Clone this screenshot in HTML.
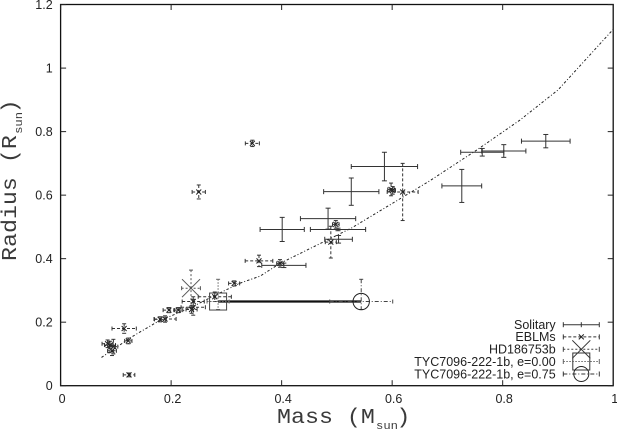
<!DOCTYPE html>
<html>
<head>
<meta charset="utf-8">
<style>
html,body{margin:0;padding:0;background:#fff;}
svg{display:block;}
text{font-family:"Liberation Sans",sans-serif;fill:#222;}
.mono{font-family:"Liberation Mono",monospace;fill:#3a3a3a;}
</style>
</head>
<body>
<svg id="chart" width="617" height="430" viewBox="0 0 617 430" xmlns="http://www.w3.org/2000/svg"></svg>
<script>
const xTicks = [0, 0.2, 0.4, 0.6, 0.8, 1];
const yTicks = [0, 0.2, 0.4, 0.6, 0.8, 1, 1.2];
const xTickLabels = ['0', '0.2', '0.4', '0.6', '0.8', '1'];
const yTickLabels = ['0', '0.2', '0.4', '0.6', '0.8', '1', '1.2'];

const modelMass = [0.074, 0.129, 0.174, 0.24, 0.288, 0.325, 0.361, 0.397, 0.527, 0.668, 0.753, 0.831, 0.9, 1.0];
const modelRadius = [0.089, 0.154, 0.2, 0.25, 0.292, 0.323, 0.345, 0.385, 0.497, 0.645, 0.742, 0.836, 0.931, 1.122];

const solitaryMass = [0.586, 0.526, 0.484, 0.401, 0.502, 0.503, 0.404, 0.726, 0.763, 0.802, 0.878];
const solitaryRadius = [0.69, 0.611, 0.526, 0.492, 0.492, 0.461, 0.379, 0.629, 0.735, 0.739, 0.77];
const solitaryMassErr = [0.06, 0.05, 0.05, 0.04, 0.05, 0.025, 0.04, 0.036, 0.039, 0.04, 0.044];
const solitaryRadiusErr = [0.045, 0.043, 0.033, 0.038, 0.004, 0.012, 0.007, 0.052, 0.012, 0.02, 0.021];

const eblmMass = [0.347, 0.25, 0.619, 0.598, 0.601, 0.489, 0.498, 0.359, 0.397, 0.314, 0.279, 0.24, 0.24, 0.237, 0.213, 0.196, 0.189, 0.18, 0.115, 0.1225, 0.0894, 0.0955, 0.085, 0.093, 0.1238];
const eblmRadius = [0.763, 0.61, 0.61, 0.618, 0.615, 0.452, 0.508, 0.393, 0.385, 0.322, 0.28, 0.247, 0.265, 0.24, 0.238, 0.238, 0.21, 0.209, 0.18, 0.141, 0.128, 0.123, 0.132, 0.11, 0.034];
const eblmMassErr = [0.0127, 0.012, 0.028, 0.006, 0.005, 0.01, 0.006, 0.025, 0.006, 0.01, 0.03, 0.022, 0.02, 0.01, 0.008, 0.0105, 0.02, 0.01, 0.022, 0.0066, 0.01, 0.008, 0.01, 0.008, 0.0105];
const eblmRadiusErr = [0.01, 0.022, 0.09, 0.02, 0.012, 0.05, 0.012, 0.018, 0.012, 0.008, 0.015, 0.025, 0.015, 0.012, 0.008, 0.008, 0.01, 0.008, 0.015, 0.009, 0.012, 0.023, 0.012, 0.015, 0.006];

const hdMass = [0.236];
const hdRadius = [0.307];
const hdMassErr = [0.017];
const hdRadiusErr = [0.057];

const tycMass = [0.285, 0.544];
const tycRadius = [0.265, 0.265];
const tycMassErr = [0.02, 0.057];
const tycRadiusLow = [0.025, 0.025];
const tycRadiusHigh = [0.07, 0.07];

const legendLabels = ['Solitary', 'EBLMs', 'HD186753b', 'TYC7096-222-1b, e=0.00', 'TYC7096-222-1b, e=0.75'];

const SVGNS = 'http://www.w3.org/2000/svg';
const svg = document.getElementById('chart');
const xScale = m => 60.6 + 552.6 * m;
const yScale = r => 385.7 - 317.6 * r;

function make(tag, attrs, parent) {
  const el = document.createElementNS(SVGNS, tag);
  for (const k in attrs) el.setAttribute(k, attrs[k]);
  (parent || svg).appendChild(el);
  return el;
}
function line(parent, x1, y1, x2, y2, stroke, width, dash) {
  const a = { x1: x1, y1: y1, x2: x2, y2: y2, stroke: stroke, 'stroke-width': width };
  if (dash) a['stroke-dasharray'] = dash;
  return make('line', a, parent);
}
function errorBars(parent, cx, cy, left, right, top, bottom, cap, stroke, dash, width) {
  line(parent, left, cy, right, cy, stroke, width, dash);
  line(parent, cx, top, cx, bottom, stroke, width, dash);
  line(parent, left, cy - cap, left, cy + cap, stroke, width);
  line(parent, right, cy - cap, right, cy + cap, stroke, width);
  line(parent, cx - cap, top, cx + cap, top, stroke, width);
  line(parent, cx - cap, bottom, cx + cap, bottom, stroke, width);
}
function crossMark(parent, cx, cy, s, stroke, width) {
  line(parent, cx - s, cy - s, cx + s, cy + s, stroke, width);
  line(parent, cx - s, cy + s, cx + s, cy - s, stroke, width);
}

/* model curve */
const modelCurve = make('polyline', {
  points: modelMass.map((m, i) => xScale(m) + ',' + yScale(modelRadius[i])).join(' '),
  fill: 'none', stroke: '#222', 'stroke-width': 1, 'stroke-dasharray': '2.5 2 1 2'
});



/* solitary */
const solitaryGroup = make('g', {});


solitaryMass.forEach((m, i) => {
  const g = make('g', {}, solitaryGroup);
  
  
  errorBars(g, xScale(m), yScale(solitaryRadius[i]),
    xScale(m - solitaryMassErr[i]), xScale(m + solitaryMassErr[i]),
    yScale(solitaryRadius[i] + solitaryRadiusErr[i]), yScale(solitaryRadius[i] - solitaryRadiusErr[i]),
    2.5, '#333', null, 1);
});

/* EBLMs */
const eblmGroup = make('g', {});


eblmMass.forEach((m, i) => {
  const g = make('g', {}, eblmGroup);
  
  
  const cx = xScale(m), cy = yScale(eblmRadius[i]);
  errorBars(g, cx, cy, xScale(m - eblmMassErr[i]), xScale(m + eblmMassErr[i]),
    yScale(eblmRadius[i] + eblmRadiusErr[i]), yScale(eblmRadius[i] - eblmRadiusErr[i]),
    2, '#333', '3 2', 1);
  crossMark(g, cx, cy, 2.5, '#222', 1);
});

/* HD186753b */
hdMass.forEach((m, i) => {
  const g = make('g', {});
  
  
  const cx = xScale(m), cy = yScale(hdRadius[i]);
  errorBars(g, cx, cy, xScale(m - hdMassErr[i]), xScale(m + hdMassErr[i]),
    yScale(hdRadius[i] + hdRadiusErr[i]), yScale(hdRadius[i] - hdRadiusErr[i]),
    2, '#555', '2 2', 1);
  crossMark(g, cx, cy, 9, '#555', 1);
});

/* connection between TYC solutions */
const tycLink = make('line', {
  x1: xScale(tycMass[0]), y1: yScale(tycRadius[0]),
  x2: xScale(tycMass[1]), y2: yScale(tycRadius[1]),
  stroke: '#111', 'stroke-width': 2.2
});



/* TYC e=0.00 */
const tycA = make('g', {});


errorBars(tycA, xScale(tycMass[0]), yScale(tycRadius[0]),
  xScale(tycMass[0] - tycMassErr[0]), xScale(tycMass[0] + tycMassErr[0]),
  yScale(tycRadius[0] + tycRadiusHigh[0]), yScale(tycRadius[0] - tycRadiusLow[0]),
  2, '#666', '1.5 1.5', 1);
make('rect', { x: xScale(tycMass[0]) - 8.5, y: yScale(tycRadius[0]) - 8.5, width: 17, height: 17, fill: 'none', stroke: '#444', 'stroke-width': 1 }, tycA);

/* TYC e=0.75 */
const tycB = make('g', {});


errorBars(tycB, xScale(tycMass[1]), yScale(tycRadius[1]),
  xScale(tycMass[1] - tycMassErr[1]), xScale(tycMass[1] + tycMassErr[1]),
  yScale(tycRadius[1] + tycRadiusHigh[1]), yScale(tycRadius[1] - tycRadiusLow[1]),
  2, '#444', '4 2 1 2', 1);
make('circle', { cx: xScale(tycMass[1]), cy: yScale(tycRadius[1]), r: 8.2, fill: 'none', stroke: '#222', 'stroke-width': 1 }, tycB);

/* axes frame */
const frame = make('rect', { x: 60.6, y: 4.5, width: 552.6, height: 381.2, fill: 'none', stroke: '#111', 'stroke-width': 1.3 });



/* ticks */
xTicks.forEach((t, i) => {
  const x = xScale(t);
  const bottomTick = line(svg, x, 385.7, x, 380.2, '#222', 1);
  
  
  const topTick = line(svg, x, 4.5, x, 10, '#222', 1);
  
  
  const label = make('text', { x: x + 1.5, y: 403, 'text-anchor': 'middle', 'font-size': 12.5 });
  label.textContent = xTickLabels[i];
  
  
});
yTicks.forEach((t, i) => {
  const y = yScale(t);
  const leftTick = line(svg, 60.6, y, 66.1, y, '#222', 1);
  
  
  const rightTick = line(svg, 613.2, y, 607.7, y, '#222', 1);
  
  
  const label = make('text', { x: 52.7, y: y + 4.3, 'text-anchor': 'end', 'font-size': 12.5 });
  label.textContent = yTickLabels[i];
  
  
});

/* axis titles: monospaced glyphs stretched horizontally to the wide reference advance */
const xTitle = make('text', { transform: 'translate(277,423) scale(1.11,1)', 'font-size': 21, 'class': 'mono', style: 'white-space:pre' });


const xMain = make('tspan', { x: 0, y: 0 }, xTitle);
xMain.textContent = 'Mass (M';
const xSub = make('tspan', { x: 89.2, y: 6, 'font-size': 11 }, xTitle);
xSub.textContent = 'sun';
const xEnd = make('tspan', { x: 107.5, y: 0 }, xTitle);
xEnd.textContent = ')';

const yTitle = make('text', { transform: 'translate(16,261) rotate(-90) scale(1.11,1)', 'font-size': 21, 'class': 'mono', style: 'white-space:pre' });


const yMain = make('tspan', { x: 0, y: 0 }, yTitle);
yMain.textContent = 'Radius (R';
const ySub = make('tspan', { x: 114.5, y: 6, 'font-size': 11 }, yTitle);
ySub.textContent = 'sun';
const yEnd = make('tspan', { x: 133, y: 0 }, yTitle);
yEnd.textContent = ')';

/* legend */
const legendY = [324.7, 336.9, 349.3, 361.5, 374];
const legendStyles = [
  { stroke: '#333', dash: null },
  { stroke: '#333', dash: '3 2' },
  { stroke: '#444', dash: '2 2' },
  { stroke: '#666', dash: '1.5 1.5' },
  { stroke: '#333', dash: '4 2 1 2' }
];
legendLabels.forEach((txt, i) => {
  const g = make('g', {});
  
  
  const y = legendY[i];
  const label = make('text', { x: 555.7, y: y + 4.3, 'text-anchor': 'end', 'font-size': 12.5 }, g);
  label.textContent = txt;
  const st = legendStyles[i];
  line(g, 563.3, y, 599.3, y, st.stroke, 1, st.dash);
  line(g, 563.3, y - 2.5, 563.3, y + 2.5, st.stroke, 1);
  line(g, 599.3, y - 2.5, 599.3, y + 2.5, st.stroke, 1);
  if (i === 0) line(g, 581.3, y - 2.5, 581.3, y + 2.5, st.stroke, 1);
  if (i === 1) crossMark(g, 581.3, y, 2.5, '#222', 1);
  if (i === 2) crossMark(g, 581.3, y, 9, '#333', 1);
  if (i === 3) make('rect', { x: 572.8, y: y - 8.5, width: 17, height: 17, fill: 'none', stroke: '#333', 'stroke-width': 1 }, g);
  if (i === 4) make('circle', { cx: 581.3, cy: y, r: 7.5, fill: 'none', stroke: '#222', 'stroke-width': 1 }, g);
});
</script>
</body>
</html>
